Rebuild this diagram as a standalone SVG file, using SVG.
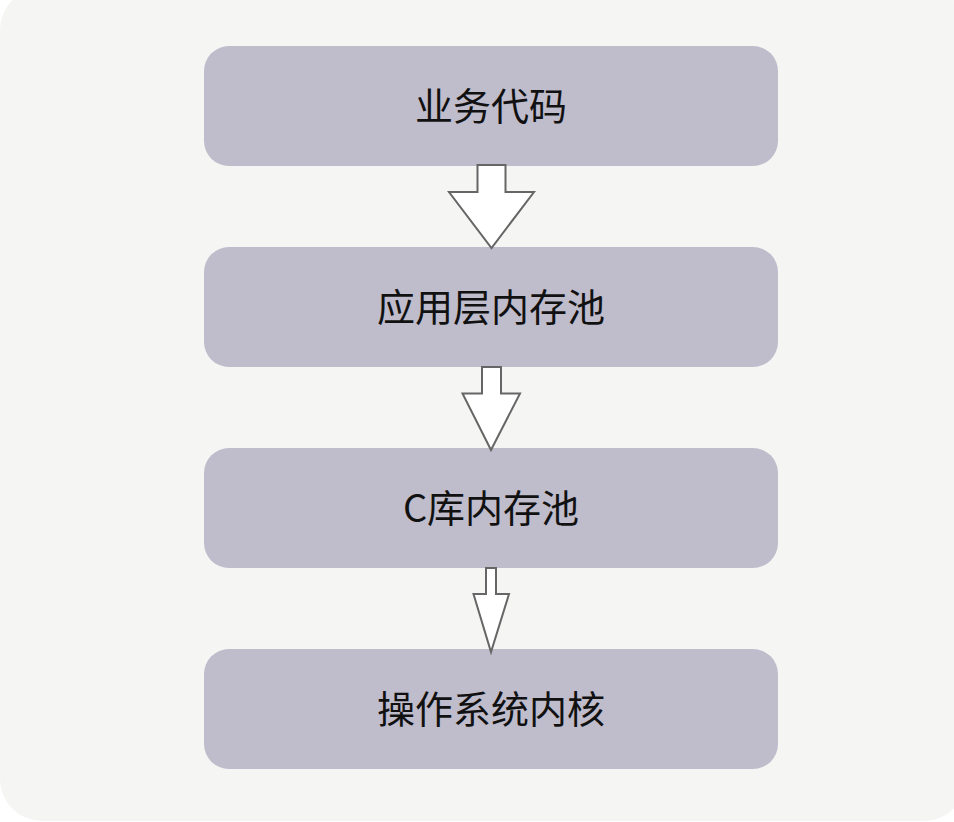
<svg xmlns="http://www.w3.org/2000/svg" width="954" height="822" viewBox="0 0 954 822">
  <style>
    .box { fill: #bfbccc; }
    .lbl { font-family: "Noto Sans CJK SC", "Liberation Sans", sans-serif; font-size: 38px; fill: #111111; text-anchor: middle; }
    .arr { fill: #ffffff; stroke: #666666; stroke-width: 2; stroke-linejoin: miter; }
  </style>
  <rect x="0" y="-12" width="966" height="833" rx="42" ry="42" fill="#f5f6f3"/>
  <g id="node1">
    <rect class="box" x="204" y="46" width="574" height="120" rx="25" ry="25"/>
    <text class="lbl" x="491" y="120">业务代码</text>
  </g>
  <g id="node2">
    <rect class="box" x="204" y="247" width="574" height="120" rx="25" ry="25"/>
    <text class="lbl" x="491" y="321">应用层内存池</text>
  </g>
  <g id="node3">
    <rect class="box" x="204" y="448" width="574" height="120" rx="25" ry="25"/>
    <text class="lbl" x="491" y="522">C库内存池</text>
  </g>
  <g id="node4">
    <rect class="box" x="204" y="649" width="574" height="120" rx="25" ry="25"/>
    <text class="lbl" x="491" y="723">操作系统内核</text>
  </g>
  <g id="connectors">
    <polygon class="arr" points="477.5,165 505.5,165 505.5,192 534,192 491.5,248 449,192 477.5,192"/>
    <polygon class="arr" points="482,367 501,367 501,393.5 520,393.5 491,450 462.5,393.5 482,393.5"/>
    <polygon class="arr" points="486,568 496,568 496,594 509,594 491,652 473.5,594 486,594"/>
  </g>
</svg>
